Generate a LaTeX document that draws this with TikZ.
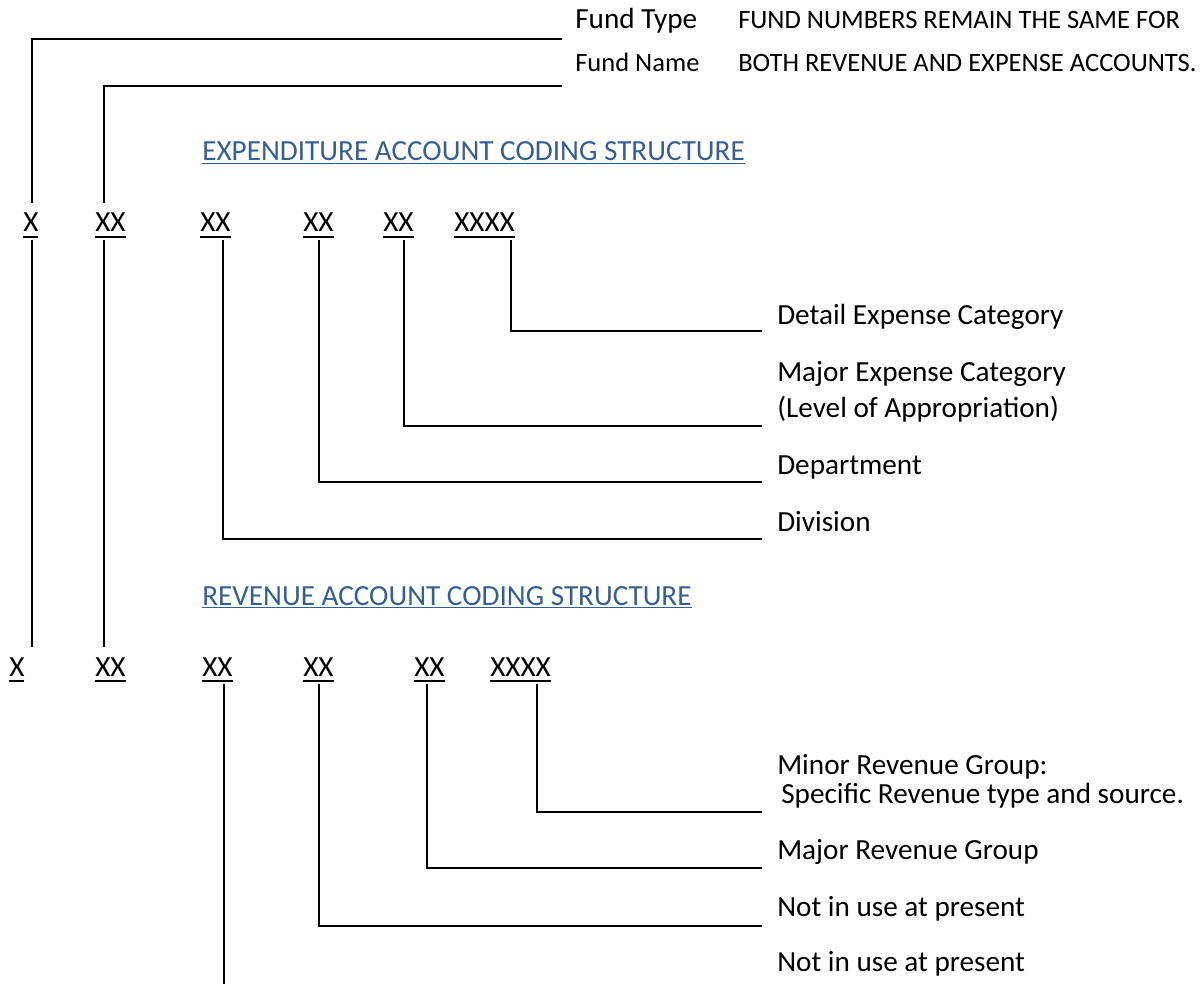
\documentclass[tikz,border=0pt]{standalone}
\usepackage{fontspec}
\setmainfont{Carlito}
\usepackage{xcolor}
\definecolor{headblue}{RGB}{54,95,145}
% underlined text, rule drawn by hand
\newcommand{\ulx}[2][-4.2pt]{\setbox0\hbox{#2}\rlap{\rule[#1]{\wd0}{1.4pt}}\box0}

\begin{document}
\begin{tikzpicture}[
    x=0.75pt, y=-0.75pt,
    every node/.style={inner sep=0pt, anchor=base west},
    code/.style={text height=21.5pt, text depth=5.5pt, font=\fontsize{21.9}{26}\selectfont},
    lbl/.style={font=\fontsize{21.9}{27}\selectfont, align=left},
    small/.style={font=\fontsize{19.9}{24}\selectfont},
    head/.style={font=\fontsize{21.9}{26}\selectfont, text=headblue},
    conn/.style={line width=1.6pt}
]
\useasboundingbox (0,0) rectangle (1202,984);

% Fund heading
\node[lbl] (ftype) at (575,29) {Fund Type};
\node[small] (fname) at (575,72) {Fund Name};
\node[small] (note1) at (738,29) {FUND NUMBERS REMAIN THE SAME FOR};
\node[small] (note2) at (738,72) {BOTH REVENUE AND EXPENSE ACCOUNTS.};

% Expenditure codes
\node[head] (exphead) at (202,161) {\ulx[-2.6pt]{EXPENDITURE ACCOUNT CODING STRUCTURE}};
\node[code] (ex1) at (23,232) {\ulx{X}};
\node[code] (ex2) at (95,232) {\ulx{XX}};
\node[code] (ex3) at (200,232) {\ulx{XX}};
\node[code] (ex4) at (303,232) {\ulx{XX}};
\node[code] (ex5) at (383,232) {\ulx{XX}};
\node[code] (ex6) at (454,232) {\ulx{XXXX}};

\node[lbl] (detail) at (777,324) {Detail Expense Category};
\node[lbl] (major) at (777,417) {Major Expense Category\\(Level of Appropriation)};
\node[lbl] (dept) at (777,474) {Department};
\node[lbl] (div) at (777,531) {Division};

% Revenue codes
\node[head] (revhead) at (202,605) {\ulx[-2.6pt]{REVENUE ACCOUNT CODING STRUCTURE}};
\node[code] (rv1) at (9,676) {\ulx{X}};
\node[code] (rv2) at (95,676) {\ulx{XX}};
\node[code] (rv3) at (202,676) {\ulx{XX}};
\node[code] (rv4) at (303,676) {\ulx{XX}};
\node[code] (rv5) at (414,676) {\ulx{XX}};
\node[code] (rv6) at (490,676) {\ulx{XXXX}};

\node[lbl, font=\fontsize{21.9}{21.75}\selectfont] (minor) at (777,803) {Minor Revenue Group:\\\hspace*{3pt}Specific Revenue type and source.};
\node[lbl] (majrev) at (777,859) {Major Revenue Group};
\node[lbl] (unused1) at (777,916) {Not in use at present};
\node[lbl] (unused2) at (777,971) {Not in use at present};

% Line ends
\coordinate (ftype-in) at (562,39);
\coordinate (fname-in) at (562,86);
\coordinate (detail-in) at (762,331);
\coordinate (major-in) at (762,426);
\coordinate (dept-in) at (762,482);
\coordinate (div-in) at (762,539);
\coordinate (minor-in) at (762,812);
\coordinate (majrev-in) at (762,868);
\coordinate (unused1-in) at (762,926);
\coordinate (unused2-in) at (224,984);

% Lines
\draw[conn] (ex1.north -| 32,0) |- (ftype-in);
\draw[conn] (ex2.north -| 104,0) |- (fname-in);
\draw[conn] (ex1.south -| 32,0) -- (rv1.north -| 32,0);
\draw[conn] (ex2.south -| 104,0) -- (rv2.north -| 104,0);
\draw[conn] (ex6.south -| 511,0) |- (detail-in);
\draw[conn] (ex5.south -| 404,0) |- (major-in);
\draw[conn] (ex4.south -| 319,0) |- (dept-in);
\draw[conn] (ex3.south -| 223,0) |- (div-in);
\draw[conn] (rv6.south -| 537,0) |- (minor-in);
\draw[conn] (rv5.south -| 427,0) |- (majrev-in);
\draw[conn] (rv4.south -| 319,0) |- (unused1-in);
\draw[conn] (rv3.south -| 224,0) -- (unused2-in);

\end{tikzpicture}
\end{document}
